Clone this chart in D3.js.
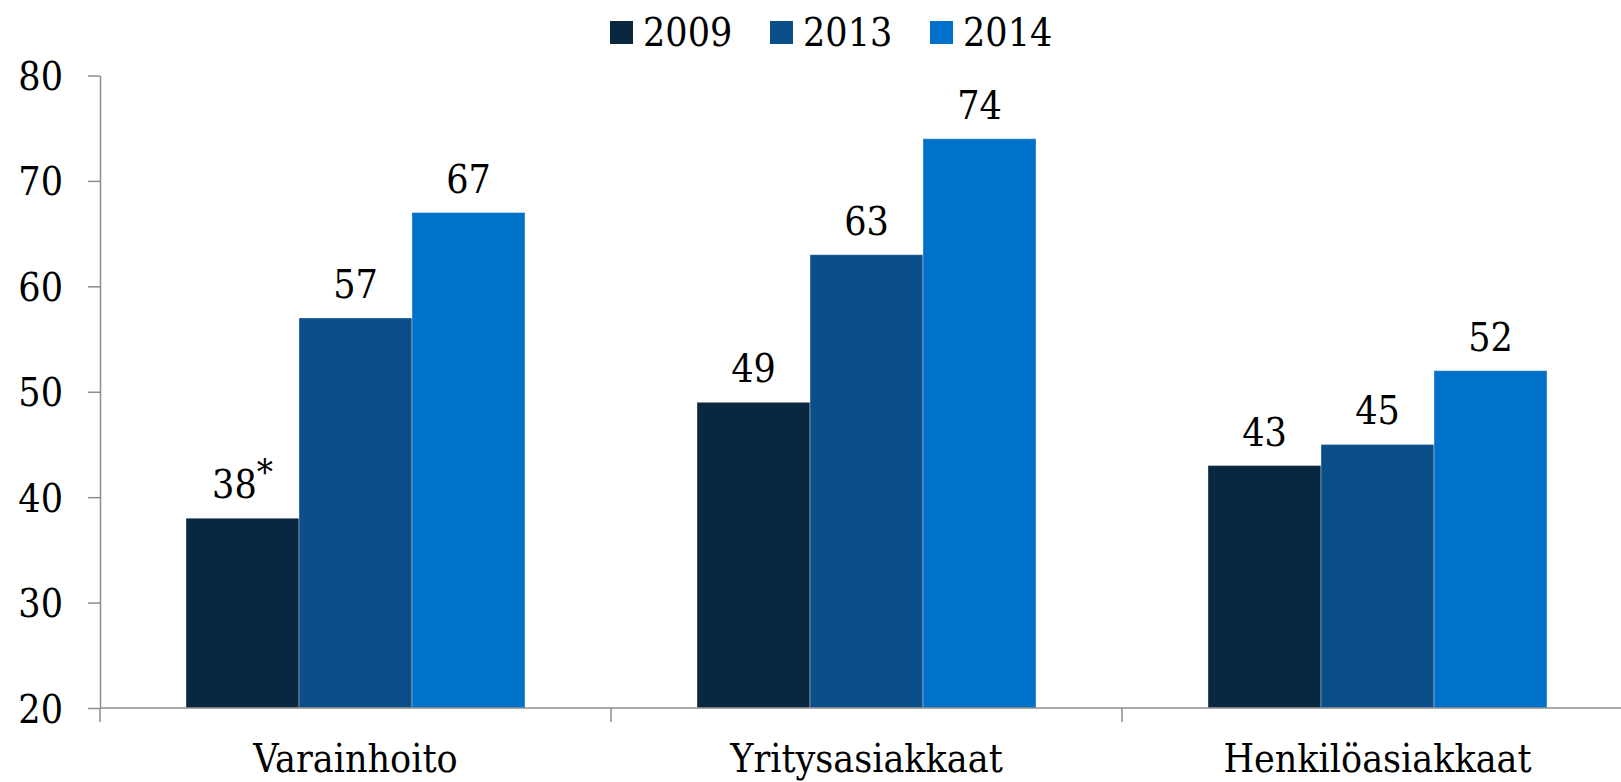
<!DOCTYPE html>
<html>
<head>
<meta charset="utf-8">
<script src="https://cdn.jsdelivr.net/npm/d3@7"></script>
<style>
  html, body { margin: 0; padding: 0; background: #fff; }
  svg { display: block; }
  text { font-family: "DejaVu Serif Condensed", "DejaVu Serif", serif; font-stretch: condensed; fill: #000; }
</style>
</head>
<body>
<svg id="chart" width="1621" height="782"></svg>
<script>
const categories = ["Varainhoito", "Yritysasiakkaat", "Henkilöasiakkaat"];
const seriesNames = ["2009", "2013", "2014"];
const values2009 = [38, 49, 43];
const values2013 = [57, 63, 45];
const values2014 = [67, 74, 52];
const labelSuffix2009 = ["*", "", ""];
const yTicks = [20, 30, 40, 50, 60, 70, 80];
const colors = ["#0a2740", "#0b4f8a", "#0071c9"];

const seriesValues = [values2009, values2013, values2014];
const svg = d3.select("#chart");
const FS = "39px";

const left = 100, baseY = 708, topY = 75.5, band = 511;
const x = d3.scaleBand().domain(categories).range([left, left + band * 3]).padding(0);
const xi = d3.scaleBand().domain(seriesNames).range([86, 425]).padding(0);
const y = d3.scaleLinear().domain([20, 80]).range([baseY, topY]);

// bars
categories.forEach((c, ci) => {
  const g = svg.append("g").attr("transform", `translate(${x(c)},0)`);
  seriesNames.forEach((s, si) => {
    const v = seriesValues[si][ci];
    g.append("rect")
      .attr("x", xi(s))
      .attr("y", y(v))
      .attr("width", xi.bandwidth())
      .attr("height", y(20) - y(v))
      .attr("fill", colors[si])
      .attr("stroke", "rgba(255,255,255,0.35)")
      .attr("stroke-width", 1);
    const t = g.append("text")
      .attr("x", xi(s) + xi.bandwidth() / 2)
      .attr("y", y(v) - 20)
      .attr("text-anchor", "middle")
      .style("font-size", FS);
    t.append("tspan").text(v);
    if (si === 0 && labelSuffix2009[ci]) {
      t.append("tspan").attr("dy", -13).style("font-size", "36px").text(labelSuffix2009[ci]);
    }
  });
});

// y axis
const yAxis = d3.axisLeft(y).tickValues(yTicks).tickSize(12).tickPadding(25).tickSizeOuter(0);
const yg = svg.append("g").attr("transform", `translate(${left},0)`).call(yAxis);
yg.attr("font-family", null).attr("font-size", null);
yg.select(".domain").attr("stroke", "#8c8c8c").attr("stroke-width", 1.5);
yg.selectAll(".tick line").attr("stroke", "#8c8c8c").attr("stroke-width", 1.5);
yg.selectAll(".tick text").style("font-size", FS).attr("dy", "0.36em");

// x axis
const xAxisG = svg.append("g").attr("transform", `translate(0,${baseY})`);
xAxisG.append("line").attr("x1", left).attr("x2", left + band * 3).attr("y1", 0).attr("y2", 0)
  .attr("stroke", "#8c8c8c").attr("stroke-width", 1.5);
const boundaries = [0, 1, 2, 3].map(i => left + band * i);
xAxisG.selectAll("line.tk").data(boundaries).enter().append("line")
  .attr("x1", d => d).attr("x2", d => d).attr("y1", 0).attr("y2", 14)
  .attr("stroke", "#8c8c8c").attr("stroke-width", 1.5);
xAxisG.selectAll("text.cat").data(categories).enter().append("text")
  .attr("x", d => x(d) + x.bandwidth() / 2)
  .attr("y", 64)
  .attr("text-anchor", "middle")
  .style("font-size", FS)
  .text(d => d);

// legend
const legendX = [610, 770, 930];
const lg = svg.append("g");
seriesNames.forEach((s, i) => {
  lg.append("rect").attr("x", legendX[i]).attr("y", 21).attr("width", 23).attr("height", 23).attr("fill", colors[i]);
  lg.append("text").attr("x", legendX[i] + 33).attr("y", 46).style("font-size", FS).text(s);
});
</script>
</body>
</html>
